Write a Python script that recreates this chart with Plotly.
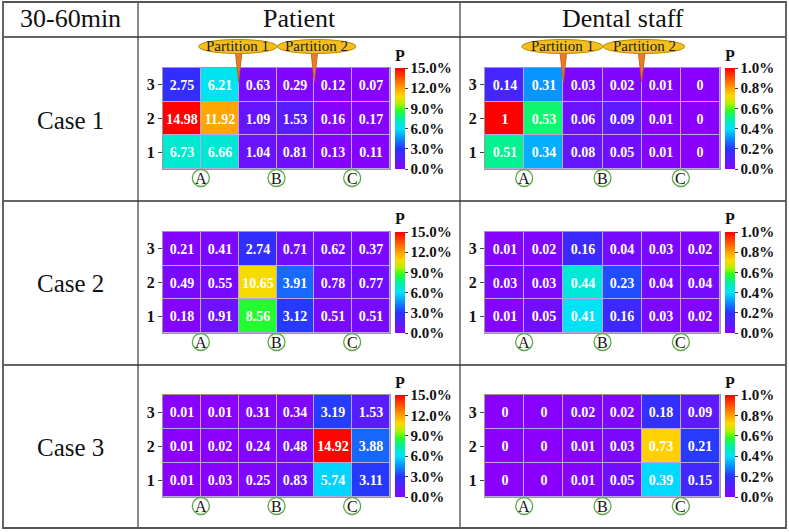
"""Heat maps of infection probability P by zone, 30-60 min, patient vs dental staff."""
import plotly.graph_objects as go

W, H = 789, 532

ROW_LABELS = [1, 2, 3]
COL_IDX = [1, 2, 3, 4, 5, 6]
ZONES = ["A", "B", "C"]
PARTITIONS = ["Partition 1", "Partition 2"]
CASES = ["Case 1", "Case 2", "Case 3"]
GROUPS = ["Patient", "Dental staff"]
PERIOD = "30-60min"

# rows listed bottom (1) to top (3)
patient_case1 = [[6.73, 6.66, 1.04, 0.81, 0.13, 0.11],
                 [14.98, 11.92, 1.09, 1.53, 0.16, 0.17],
                 [2.75, 6.21, 0.63, 0.29, 0.12, 0.07]]
patient_case2 = [[0.18, 0.91, 8.56, 3.12, 0.51, 0.51],
                 [0.49, 0.55, 10.65, 3.91, 0.78, 0.77],
                 [0.21, 0.41, 2.74, 0.71, 0.62, 0.37]]
patient_case3 = [[0.01, 0.03, 0.25, 0.83, 5.74, 3.11],
                 [0.01, 0.02, 0.24, 0.48, 14.92, 3.88],
                 [0.01, 0.01, 0.31, 0.34, 3.19, 1.53]]
staff_case1 = [[0.51, 0.34, 0.08, 0.05, 0.01, 0],
               [1, 0.53, 0.06, 0.09, 0.01, 0],
               [0.14, 0.31, 0.03, 0.02, 0.01, 0]]
staff_case2 = [[0.01, 0.05, 0.41, 0.16, 0.03, 0.02],
               [0.03, 0.03, 0.44, 0.23, 0.04, 0.04],
               [0.01, 0.02, 0.16, 0.04, 0.03, 0.02]]
staff_case3 = [[0, 0, 0.01, 0.05, 0.39, 0.15],
               [0, 0, 0.01, 0.03, 0.73, 0.21],
               [0, 0, 0.02, 0.02, 0.18, 0.09]]

patient_ticks = [0, 3, 6, 9, 12, 15]
staff_ticks = [0, 0.2, 0.4, 0.6, 0.8, 1.0]

RAINBOW = [
    [0.0, "#8a00ff"], [0.1, "#5a1cff"], [0.2, "#2a32ff"], [0.3, "#0a8cff"],
    [0.4, "#00e2ff"], [0.5, "#00f0a0"], [0.58, "#28ff20"], [0.65, "#b8f000"],
    [0.72, "#ffd800"], [0.8, "#ffa200"], [0.9, "#ff5000"], [1.0, "#ff0000"],
]

SERIF = "Liberation Serif, Times New Roman, serif"

# pixel boxes of the panels
COL_X = [(163, 390), (485, 720)]
CBAR_X = [395, 725]
ROW_Y = [(68, 169), (232, 333), (395, 497)]


def px(x):
    return x / W


def py(y):
    return 1 - y / H


def label(x, y, text, size, xref="paper", bold=False, color="#111"):
    fig.add_annotation(
        x=x, y=y, xref=xref, yref="paper", xanchor="center", yanchor="middle",
        text=f"<b>{text}</b>" if bold else text, showarrow=False,
        font=dict(family=SERIF, size=size, color=color),
    )


fig = go.Figure()

panels = [
    [patient_case1, staff_case1],
    [patient_case2, staff_case2],
    [patient_case3, staff_case3],
]

n = 0
for r, row in enumerate(panels):
    y0, y1 = ROW_Y[r]
    for c, z in enumerate(row):
        n += 1
        x0, x1 = COL_X[c]
        xa = "x" if n == 1 else f"x{n}"
        ya = "y" if n == 1 else f"y{n}"
        ticks = patient_ticks if c == 0 else staff_ticks
        fig.add_trace(go.Heatmap(
            z=z, x=COL_IDX, y=ROW_LABELS,
            text=[[f"{v:g}" for v in line] for line in z],
            texttemplate="<b>%{text}</b>",
            textfont=dict(family=SERIF, size=14, color="white"),
            colorscale=RAINBOW, zmin=0, zmax=ticks[-1],
            xgap=1, ygap=1, xaxis=xa, yaxis=ya, hoverinfo="skip",
            colorbar=dict(
                x=px(CBAR_X[c]), xanchor="left", thickness=10,
                xpad=0, ypad=0,
                y=py((y0 + y1) / 2), yanchor="middle",
                len=(y1 - y0) / H, lenmode="fraction",
                outlinewidth=0, ticks="outside", ticklen=3,
                tickvals=ticks,
                ticktext=[f"<b>{t:.1f}%</b>" for t in ticks],
                tickfont=dict(family=SERIF, size=15, color="#111"),
            ),
        ))
        key = "" if n == 1 else str(n)
        fig.layout["xaxis" + key] = dict(
            domain=[px(x0), px(x1)], range=[0.5, 6.5], anchor=ya,
            showticklabels=False, showgrid=False, zeroline=False,
            showline=True, linecolor="#999", linewidth=1, mirror=True,
            fixedrange=True,
        )
        fig.layout["yaxis" + key] = dict(
            domain=[py(y1), py(y0)], range=[0.5, 3.5], anchor=xa,
            tickvals=ROW_LABELS, ticktext=[f"<b>{v}</b>" for v in ROW_LABELS],
            tickfont=dict(family=SERIF, size=16, color="#111"),
            ticks="outside", ticklen=4, tickcolor="#444",
            showgrid=False, zeroline=False,
            showline=True, linecolor="#999", linewidth=1, mirror=True,
            fixedrange=True,
        )
        # circled zone letters under the map
        for zone, zx in zip(ZONES, [1.5, 3.5, 5.5]):
            fig.add_shape(
                type="circle", xref=xa, yref="paper",
                xsizemode="pixel", ysizemode="pixel",
                xanchor=zx, yanchor=py(y1 + 9),
                x0=-8.5, x1=8.5, y0=-8.5, y1=8.5,
                line=dict(color="#5aaa46", width=1.3),
            )
            label(zx, py(y1 + 9), zone, 16, xref=xa)
        # colorbar heading
        label(px(CBAR_X[c] + 5), py(y0 - 13), "P", 16, bold=True)
        # partition call-outs only on the first case
        if r == 0:
            for name, bx, cx in zip(PARTITIONS, [2.5, 4.5], [2.48, 4.56]):
                fig.add_shape(
                    type="path", xref=xa, yref="paper",
                    path=(f"M {bx - 0.1},{py(48)} L {bx + 0.1},{py(48)} "
                          f"L {bx},{py(y0 + 14)} Z"),
                    fillcolor="#ee7b22", line=dict(color="#b85a10", width=0.8),
                )
                fig.add_shape(
                    type="circle", xref=xa, yref="paper",
                    x0=cx - 1.04, x1=cx + 1.04, y0=py(53.5), y1=py(39.5),
                    fillcolor="#f4bf1a", line=dict(color="#b58a00", width=1),
                )
                label(cx, py(46.5), name, 15, xref=xa, color="#222")

# table frame
for x in [138, 460]:
    fig.add_shape(type="line", xref="paper", yref="paper",
                  x0=px(x), x1=px(x), y0=py(2), y1=py(528),
                  line=dict(color="#111", width=1))
for y in [37, 201, 365]:
    fig.add_shape(type="line", xref="paper", yref="paper",
                  x0=px(3), x1=px(786), y0=py(y), y1=py(y),
                  line=dict(color="#333", width=1.3))
fig.add_shape(type="rect", xref="paper", yref="paper",
              x0=px(3), x1=px(786), y0=py(528), y1=py(2),
              line=dict(color="#555", width=1.8))

# header texts
for text, x in zip([PERIOD] + GROUPS, [70, 299, 623]):
    label(px(x), py(19), text, 26)
for text, y in zip(CASES, [120, 283, 447]):
    label(px(70), py(y), text, 25)

fig.update_layout(
    width=W, height=H, margin=dict(l=0, r=0, t=0, b=0),
    paper_bgcolor="white", plot_bgcolor="#b8a8e0", showlegend=False,
)

fig.write_html("out.html", config={"displayModeBar": False},
               post_script="document.body.style.margin='0';")
